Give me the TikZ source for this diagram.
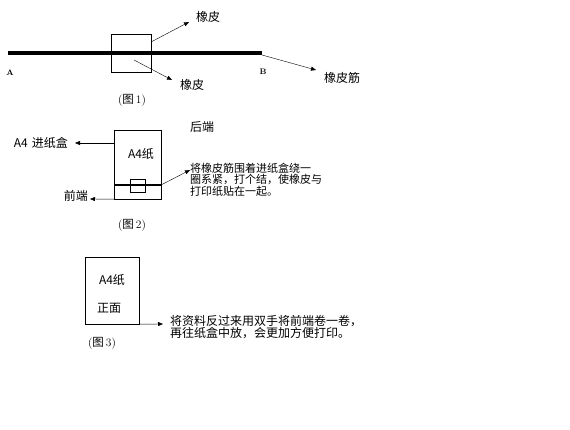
\documentclass[tikz,border=0pt]{standalone}
\usepackage{fontspec}
\newfontfamily\cjk{Noto Sans CJK SC}
\usetikzlibrary{arrows.meta,positioning}

\begin{document}
\begin{tikzpicture}[x=1pt, y=-1pt, >={Triangle[length=5pt,width=4pt]},
    lbl/.style={font=\cjk\fontsize{12}{12}\selectfont, inner sep=0pt},
    note/.style={font=\cjk\fontsize{11}{11.5}\selectfont, inner sep=0pt, align=left, anchor=west},
    figcap/.style={font=\fontsize{11.5}{12}\selectfont, inner sep=0pt},
    pt/.style={font=\bfseries\fontsize{8}{8}\selectfont, inner sep=0pt},
    box/.style={draw, inner sep=0pt}]
\useasboundingbox (0,0) rectangle (570,430);

% figure 1
\path
    (8,53) coordinate (A1)
    (262,53) coordinate (B1)
    (151,42) coordinate (g1)
    (189,22) coordinate (g1tip)
    (134,60) coordinate (g2)
    (172,80) coordinate (g2tip)
    (262,55) coordinate (b1)
    (316,70) coordinate (b1tip)
    ;
\draw[line width=4.5pt] (A1) -- (B1);
\node[box, minimum width=40pt, minimum height=38pt] (gum1) at (131,53) {};
\node[lbl, anchor=west] (rub1) at (196,17) {橡皮};
\node[lbl, anchor=west] (rub2) at (180,85) {橡皮};
\node[lbl, anchor=west] (band) at (324,78) {橡皮筋};
\node[pt] (la) at (10,73) {A};
\node[pt] (lb) at (263,72) {B};
\node[figcap] (cap1) at (132,100) {({\cjk 图}\,1)};
\draw[->] (g1) -- (g1tip);
\draw[->] (g2) -- (g2tip);
\draw[->] (b1) -- (b1tip);

% figure 2
\node[box, minimum width=47pt, minimum height=69pt] (tray) at (137.5,164.5) {};
\draw[line width=2.5pt] (114,185) coordinate (s1) -- (161,185) coordinate (s2);
\node[box, minimum width=15pt, minimum height=13pt] (gum2) at (137.5,185.5) {};
\node[lbl] (paper2) at (141,154) {A4纸};
\node[lbl, anchor=west] (back) at (190,127) {后端};
\node[lbl, anchor=east] (feed) at (68,143) {A4\,\,进纸盒};
\node[lbl, anchor=east] (front) at (88,196) {前端};
\path
    (tray.west |- feed) coordinate (f1)
    (75,143) coordinate (f1tip)
    (tray.south west) coordinate (f2)
    (90,199) coordinate (f2tip)
    (190,170) coordinate (s2tip)
    ;
\node[note] (tip2) at (190,179.5) {将橡皮筋围着进纸盒绕一\\圈系紧，打个结，使橡皮与\\打印纸贴在一起。};
\draw[->] (f1) -- (f1tip);
\draw[->] (f2) -- (f2tip);
\draw[->] (s2) -- (s2tip);
\node[figcap] (cap2) at (132,225) {({\cjk 图}\,2)};

% figure 3
\node[box, minimum width=54pt, minimum height=67pt] (sheet) at (112,290.5) {};
\node[lbl] (paper3) at (112,280) {A4纸};
\node[lbl] (face) at (109,308) {正面};
\coordinate (r3tip) at (163,324);
\draw[->] (sheet.south east) -- (r3tip);
\node[note, font=\cjk\fontsize{12}{12}\selectfont] (tip3) at (170,327) {将资料反过来用双手将前端卷一卷，\\再往纸盒中放，会更加方便打印。};
\node[figcap] (cap3) at (102,343) {({\cjk 图}\,3)};
\end{tikzpicture}
\end{document}
